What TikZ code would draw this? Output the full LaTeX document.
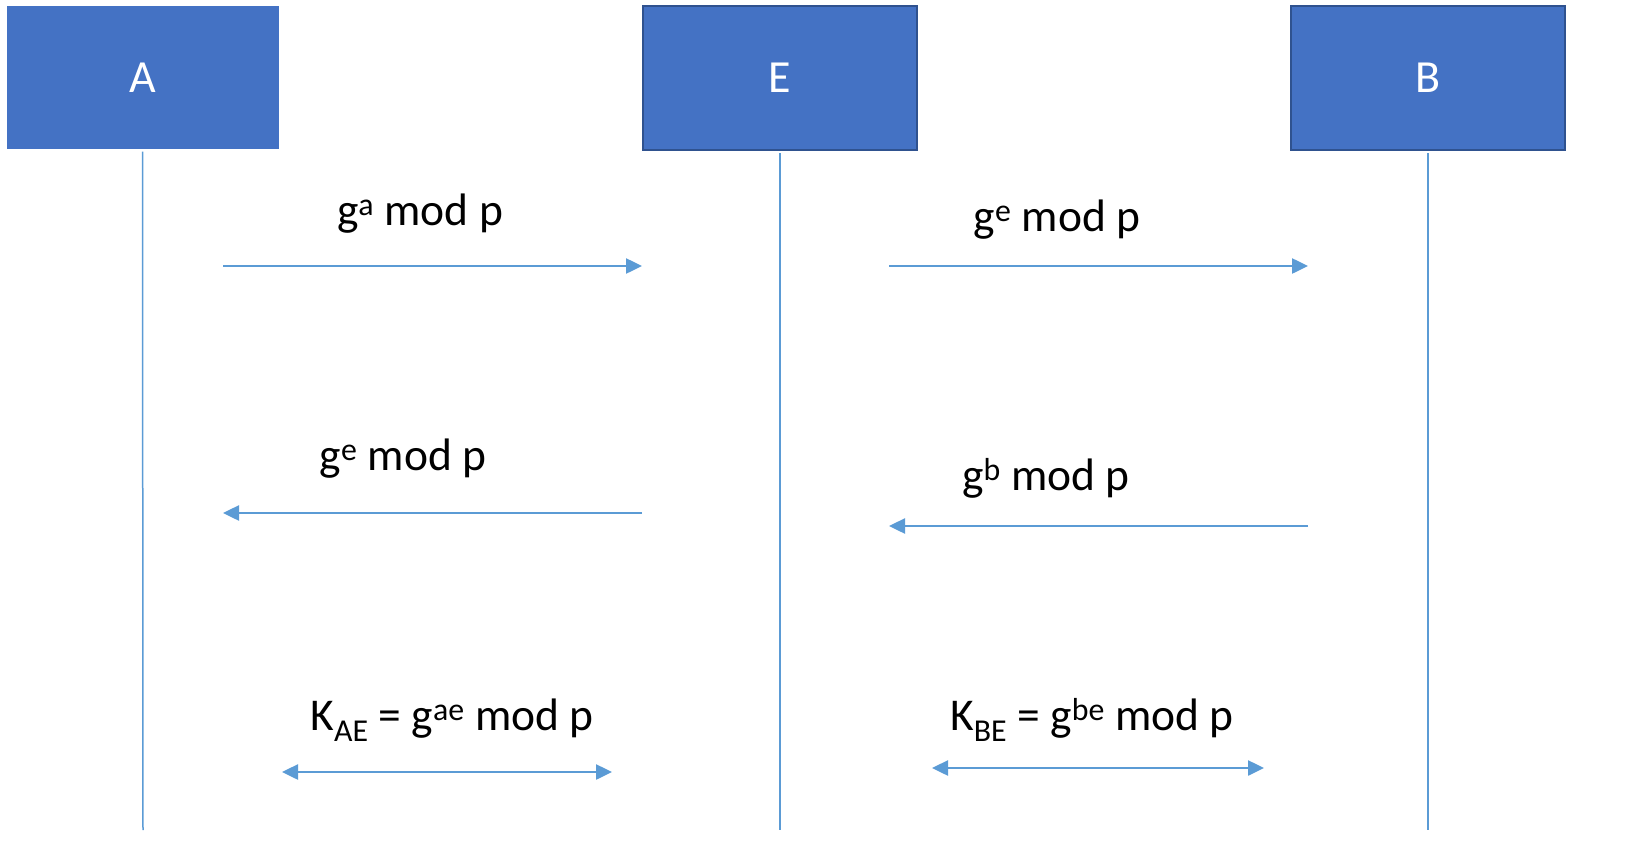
\documentclass[tikz,border=0pt]{standalone}
\usepackage{fontspec}
\setmainfont{Carlito}
\usetikzlibrary{arrows.meta}
\definecolor{boxfill}{HTML}{4472C4}
\definecolor{boxline}{HTML}{2F528F}
\definecolor{lineblue}{HTML}{5B9BD5}
\tikzset{
  actor/.style={fill=boxfill, draw=#1, line width=2pt, minimum width=274pt, minimum height=144pt, inner sep=0pt, text=white, font=\fontsize{46}{54}\selectfont},
  life/.style={draw=lineblue, line width=1.5pt},
  msg/.style={draw=lineblue, line width=2.5pt, -{Triangle[length=16pt,width=15pt]}},
  both/.style={draw=lineblue, line width=2.5pt, {Triangle[length=16pt,width=15pt]}-{Triangle[length=16pt,width=15pt]}},
  lbl/.style={anchor=base, inner sep=0pt, font=\fontsize{45.5}{54}\selectfont}
}
\begin{document}
\begin{tikzpicture}[x=1pt,y=-1pt]
\useasboundingbox (0,0) rectangle (1638,867);
% actors
\node[actor=boxfill, minimum width=270pt, minimum height=140pt] (A) at (142.5,77.5) {A};
\node[actor=boxline] (E) at (780,78) {E};
\node[actor=boxline] (B) at (1428,78) {B};
% lifelines
\coordinate (Aend) at (143,830);
\coordinate (Eend) at (780,830);
\coordinate (Bend) at (1428,830);
\draw[life] (A.south) ++(0,3) -- (Aend);
\draw[life] (E.south) ++(0,2) -- (Eend);
\draw[life] (B.south) ++(0,2) -- (Bend);
% message endpoints
\coordinate (m1s) at (223,266); \coordinate (m1e) at (642,266);
\coordinate (m2s) at (889,266); \coordinate (m2e) at (1308,266);
\coordinate (m3s) at (642,513); \coordinate (m3e) at (223,513);
\coordinate (m4s) at (1308,526); \coordinate (m4e) at (889,526);
\coordinate (k1s) at (282,772); \coordinate (k1e) at (612,772);
\coordinate (k2s) at (932,768); \coordinate (k2e) at (1264,768);
\draw[msg] (m1s) -- (m1e);
\draw[msg] (m2s) -- (m2e);
\draw[msg] (m3s) -- (m3e);
\draw[msg] (m4s) -- (m4e);
\draw[both] (k1s) -- (k1e);
\draw[both] (k2s) -- (k2e);
% labels
\node[lbl] (l1) at (420,225) {g\textsuperscript{a} mod p};
\node[lbl] (l2) at (1057,231) {g\textsuperscript{e} mod p};
\node[lbl] (l3) at (403,470) {g\textsuperscript{e} mod p};
\node[lbl] (l4) at (1046,490) {g\textsuperscript{b} mod p};
\node[lbl] (l5) at (452,730) {K\textsubscript{AE} = g\textsuperscript{ae} mod p};
\node[lbl] (l6) at (1092,730) {K\textsubscript{BE} = g\textsuperscript{be} mod p};
\end{tikzpicture}
\end{document}
